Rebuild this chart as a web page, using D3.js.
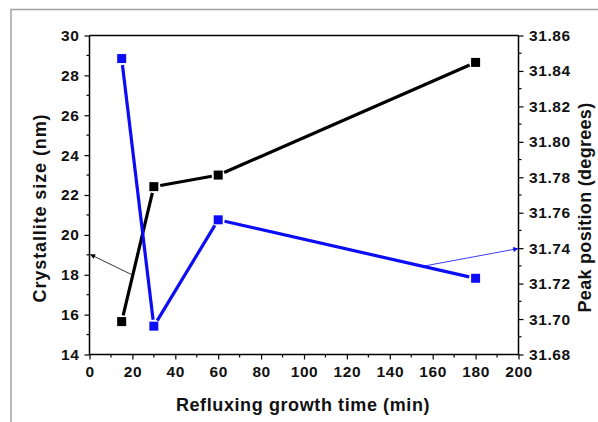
<!DOCTYPE html>
<html><head><meta charset="utf-8">
<script src="https://cdn.jsdelivr.net/npm/d3@7"></script>
<style>
html,body{margin:0;padding:0;background:#fff;}
svg{display:block;}
text{font-family:"Liberation Sans",Arial,sans-serif;font-weight:bold;fill:#111;}
</style></head>
<body>
<script>
const times = [15, 30, 60, 180];
const crystalliteSize = [15.65, 22.42, 23.0, 28.65];
const peakPosition = [31.847, 31.696, 31.756, 31.723];
const xTicks = [0, 20, 40, 60, 80, 100, 120, 140, 160, 180, 200];
const leftTicks = [14, 16, 18, 20, 22, 24, 26, 28, 30];
const rightTicks = [31.68, 31.70, 31.72, 31.74, 31.76, 31.78, 31.80, 31.82, 31.84, 31.86];
const xTitle = "Refluxing growth time (min)";
const leftTitle = "Crystallite size (nm)";
const rightTitle = "Peak position (degrees)";

const W = 598, H = 422;
const L = 89.5, R = 518.5, T = 35.5, B = 354.5;
const svg = d3.select("body").append("svg").attr("width", W).attr("height", H);

// outer frame
svg.append("rect").attr("x", 11).attr("y", 9.5).attr("width", 640).attr("height", 460)
  .attr("fill", "none").attr("stroke", "#a0a0a0").attr("stroke-width", 1.5);

const x = d3.scaleLinear().domain([0, 200]).range([L, R]);
const yL = d3.scaleLinear().domain([14, 30]).range([B, T]);
const yR = d3.scaleLinear().domain([31.68, 31.86]).range([B, T]);

// minor ticks
const gMinor = svg.append("g").attr("stroke", "#000").attr("stroke-width", 1.2);
d3.range(10, 200, 20).forEach(v => gMinor.append("line").attr("x1", x(v)).attr("x2", x(v)).attr("y1", B).attr("y2", B + 3));
d3.range(15, 30, 2).forEach(v => gMinor.append("line").attr("x1", L).attr("x2", L - 3).attr("y1", yL(v)).attr("y2", yL(v)));
d3.range(0, 9).forEach(i => { const v = 31.69 + i * 0.02; gMinor.append("line").attr("x1", R).attr("x2", R + 3).attr("y1", yR(v)).attr("y2", yR(v)); });

const fs = "15.5px";
const xAxis = svg.append("g").attr("transform", `translate(0,${B})`)
  .call(d3.axisBottom(x).tickValues(xTicks).tickSize(5).tickPadding(6).tickFormat(d3.format("d")));
const lAxis = svg.append("g").attr("transform", `translate(${L},0)`)
  .call(d3.axisLeft(yL).tickValues(leftTicks).tickSize(5).tickPadding(5).tickFormat(d3.format("d")));
const rAxis = svg.append("g").attr("transform", `translate(${R},0)`)
  .call(d3.axisRight(yR).tickValues(rightTicks).tickSize(5).tickPadding(5.5).tickFormat(d3.format(".2f")));
[xAxis, lAxis, rAxis].forEach(a => {
  a.selectAll("path").attr("stroke", "#000").attr("stroke-width", 1.5);
  a.selectAll("line").attr("stroke", "#000").attr("stroke-width", 1.2);
  a.selectAll("text").style("font-size", fs).style("letter-spacing", "0.6px")
    .style("font-family", '"Liberation Sans",Arial,sans-serif').style("font-weight", "bold").attr("fill", "#111");
});
xAxis.selectAll("path").attr("d", `M${L},0H${R}`);
lAxis.selectAll("path").attr("d", `M0,${B}V${T}`);
rAxis.selectAll("path").attr("d", `M0,${B}V${T}`);
// top border
svg.append("line").attr("x1", L).attr("x2", R).attr("y1", T).attr("y2", T).attr("stroke", "#000").attr("stroke-width", 1.5);

// titles
svg.append("text").attr("x", 303).attr("y", 411).attr("text-anchor", "middle")
  .style("font-size", "18px").style("letter-spacing", "0.6px").text(xTitle);
svg.append("text").attr("transform", `translate(46,208) rotate(-90)`).attr("text-anchor", "middle")
  .style("font-size", "18px").style("letter-spacing", "0.9px").text(leftTitle);
svg.append("text").attr("transform", `translate(591,207.5) rotate(-90)`).attr("text-anchor", "middle")
  .style("font-size", "18px").style("letter-spacing", "0.3px").text(rightTitle);

// series
const blue = "#0d0df5";
const ms = 9, gap = ms / 2 + 2;
function drawSeries(data, yScale, color) {
  const pts = data.map(d => [x(d[0]), yScale(d[1])]);
  const g = svg.append("g");
  for (let i = 0; i < pts.length - 1; i++) {
    const [x0, y0] = pts[i], [x1, y1] = pts[i + 1];
    const len = Math.hypot(x1 - x0, y1 - y0), ux = (x1 - x0) / len, uy = (y1 - y0) / len;
    g.append("line").attr("x1", x0 + ux * gap).attr("y1", y0 + uy * gap)
      .attr("x2", x1 - ux * gap).attr("y2", y1 - uy * gap)
      .attr("stroke", color).attr("stroke-width", 3.2);
  }
  g.selectAll("rect").data(pts).enter().append("rect")
    .attr("x", p => p[0] - ms / 2).attr("y", p => p[1] - ms / 2).attr("width", ms).attr("height", ms).attr("fill", color);
}
drawSeries(times.map((t, i) => [t, crystalliteSize[i]]), yL, "#000");
drawSeries(times.map((t, i) => [t, peakPosition[i]]), yR, blue);

// arrows
const defs = svg.append("defs");
function marker(id, color) {
  defs.append("marker").attr("id", id).attr("viewBox", "0 0 10 10").attr("refX", 10).attr("refY", 5)
    .attr("markerWidth", 8).attr("markerHeight", 5).attr("markerUnits", "userSpaceOnUse").attr("orient", "auto")
    .append("path").attr("d", "M0,0L10,5L0,10Z").attr("fill", color);
}
marker("ah-k", "#000");
marker("ah-b", blue);
svg.append("line").attr("x1", x(19.4)).attr("y1", yL(18.02)).attr("x2", x(0.3)).attr("y2", yL(19.02))
  .attr("stroke", "#000").attr("stroke-width", 0.8).attr("marker-end", "url(#ah-k)");
svg.append("line").attr("x1", x(156.4)).attr("y1", yR(31.730)).attr("x2", x(199.9)).attr("y2", yR(31.7398))
  .attr("stroke", blue).attr("stroke-width", 0.8).attr("marker-end", "url(#ah-b)");
</script>
</body></html>
